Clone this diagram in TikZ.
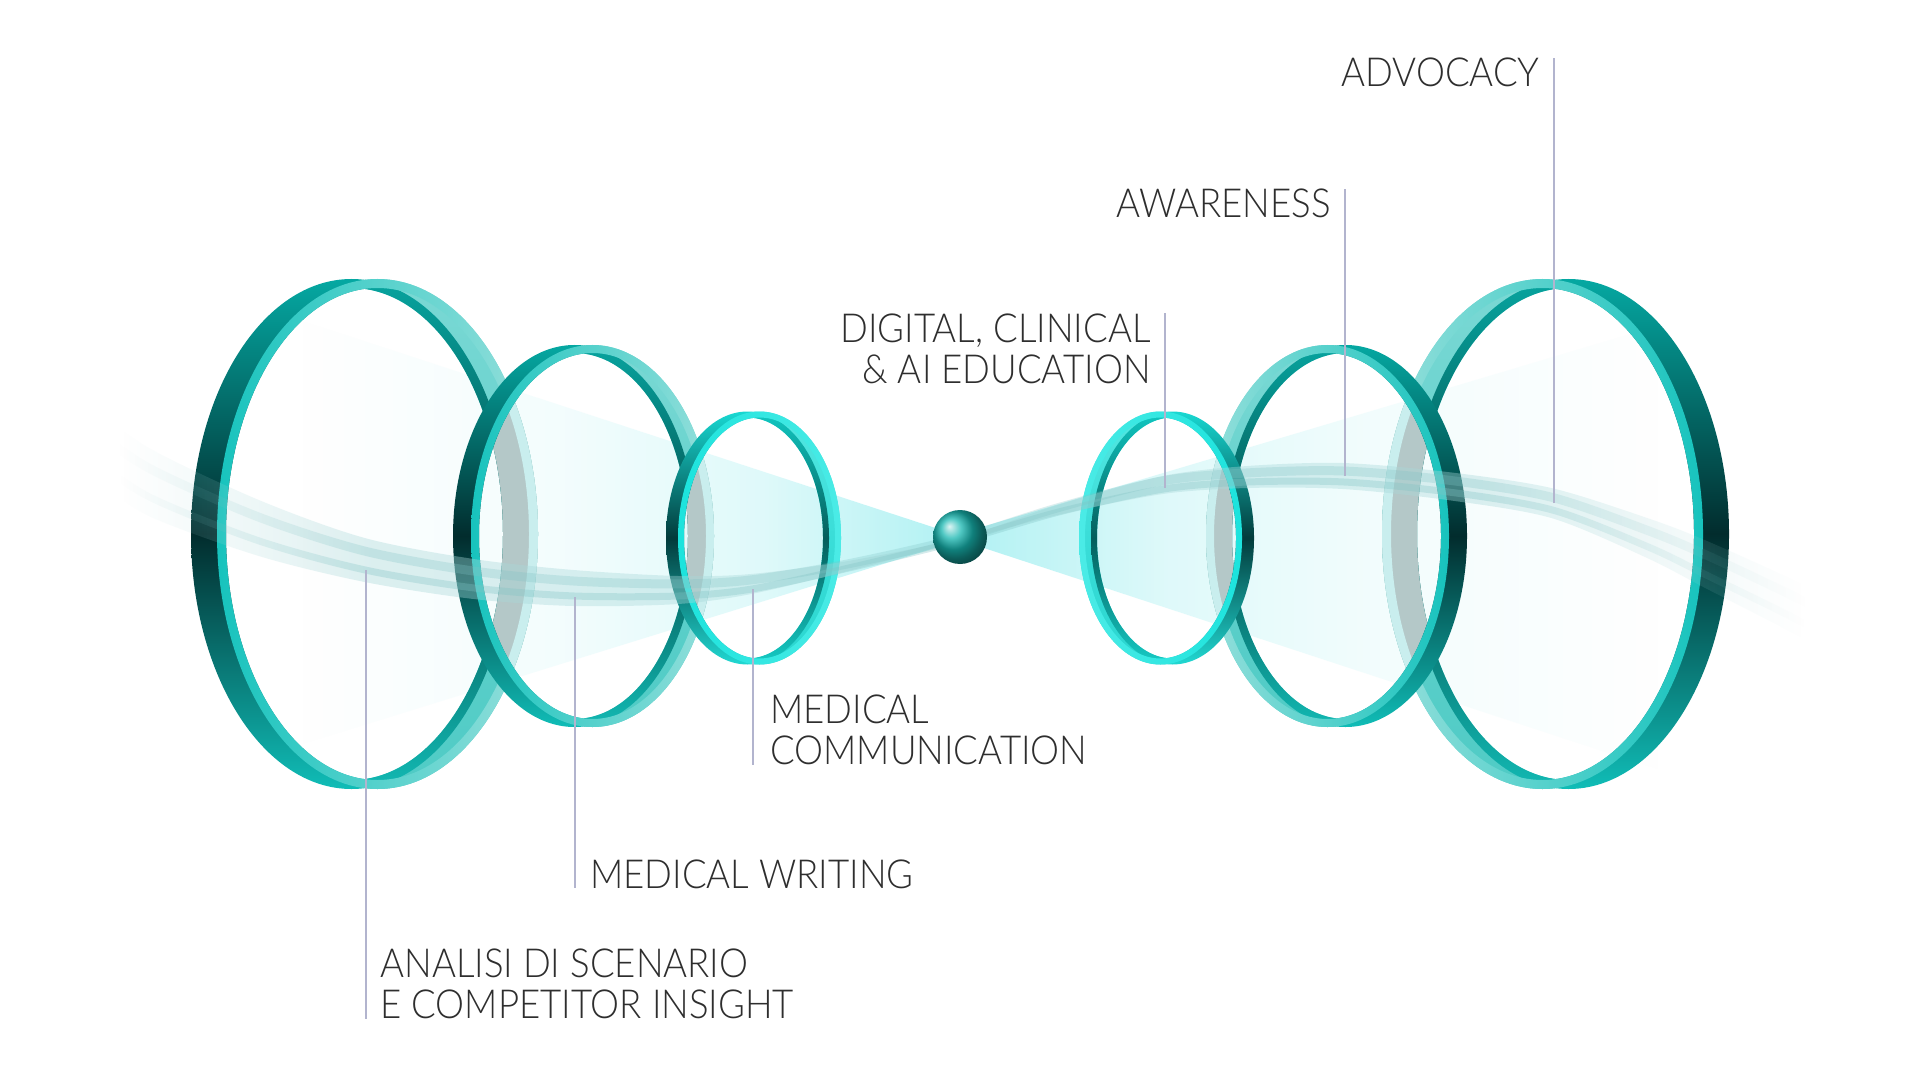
\documentclass[tikz,border=0pt]{standalone}
\usepackage{fontspec}
\setmainfont{Lato}[UprightFont={* Light}, FakeStretch=0.915]
\usetikzlibrary{positioning, fadings, calc}

\definecolor{inktext}{HTML}{2E2E2E}
\definecolor{leadergray}{HTML}{B2B4CE}
\definecolor{beamcyan}{HTML}{9CEEF0}
\definecolor{ribbonteal}{HTML}{A8D8D9}
\definecolor{strandteal}{HTML}{80C3C4}
\definecolor{hubteal}{HTML}{17B7B1}
% big rings
\definecolor{bdT}{HTML}{05A8A2}\definecolor{bdM}{HTML}{022C2D}\definecolor{bdB}{HTML}{10BDB7}
\definecolor{blT}{HTML}{7AD8D4}\definecolor{blM}{HTML}{62D1CC}\definecolor{blB}{HTML}{4FCBC5}
\definecolor{bbT}{HTML}{07A49F}\definecolor{bbM}{HTML}{044F4D}\definecolor{bbB}{HTML}{12B9B3}
\definecolor{bfIn}{HTML}{17C3BD}\definecolor{bfOut}{HTML}{95DFDB}
% small rings
\definecolor{sdT}{HTML}{18D8D2}\definecolor{sdM}{HTML}{023B3B}\definecolor{sdB}{HTML}{21D8D2}
\definecolor{slT}{HTML}{52E6E1}\definecolor{slM}{HTML}{3ADDD8}\definecolor{slB}{HTML}{2AD6D0}
\definecolor{sbT}{HTML}{11C8C2}\definecolor{sbM}{HTML}{045E5C}\definecolor{sbB}{HTML}{16CBC5}
\definecolor{sfIn}{HTML}{1CE3DD}\definecolor{sfOut}{HTML}{4BEBE6}
% seen through a lens
\definecolor{ghostface}{HTML}{B4C8C8}
\definecolor{ghostedge}{HTML}{C9EEEE}

\tikzset{
  big dark/.style={top color=bdT, bottom color=bdB, middle color=bdM},
  big light/.style={top color=blT, bottom color=blB, middle color=blM},
  big back/.style={top color=bbT, bottom color=bbB, middle color=bbM},
  big front 1/.style={left color=bfIn, right color=bfOut},
  big front -1/.style={left color=bfOut, right color=bfIn},
  small dark/.style={top color=sdT, bottom color=sdB, middle color=sdM},
  small light/.style={top color=slT, bottom color=slB, middle color=slM},
  small back/.style={top color=sbT, bottom color=sbB, middle color=sbM},
  small front 1/.style={left color=sfIn, right color=sfOut},
  small front -1/.style={left color=sfOut, right color=sfIn},
}

\pgfdeclarehorizontalshading{ribbonmask}{100bp}{color(0bp)=(black); color(26bp)=(black); color(33bp)=(white); color(64bp)=(white); color(73bp)=(black); color(100bp)=(black)}
\pgfdeclarehorizontalshading{beammaskL}{100bp}{color(0bp)=(black); color(25bp)=(black); color(45bp)=(black!85!white); color(60bp)=(black!60!white); color(75bp)=(white); color(100bp)=(white)}
\pgfdeclarehorizontalshading{beammaskR}{100bp}{color(0bp)=(white); color(25bp)=(white); color(40bp)=(black!60!white); color(55bp)=(black!85!white); color(75bp)=(black); color(100bp)=(black)}
\tikzfading[name=ribbonfade, shading=ribbonmask]
\tikzfading[name=beamleft, shading=beammaskL]
\tikzfading[name=beamright, shading=beammaskR]

% #1 cx, #2 cy, #3 rx, #4 ry, #5 depth, #6 rim, #7 palette, #8 side
\newcommand{\ringband}[8]{%
  \pgfmathsetmacro{\ringax}{#1-(#8)*#5}%
  \pgfmathsetmacro{\ringbx}{#1+(#8)*#5}%
  \pgfmathsetmacro{\ringro}{#3+#6/2}%
  \pgfmathsetmacro{\ringri}{#3-#6/2}%
  \pgfmathsetmacro{\ringso}{#4+#6/2}%
  \pgfmathsetmacro{\ringsi}{#4-#6/2}%
  \pgfmathsetmacro{\ringfar}{#1-(#8)*400}%
  \pgfmathsetmacro{\ringnear}{#1+(#8)*400}%
  \begin{scope}
    \clip (#1,{#2-400}) rectangle (\ringfar,{#2+400});
    \shade[even odd rule, #7 dark] (\ringax,#2) ellipse[x radius=\ringro, y radius=\ringso]
      (\ringbx,#2) ellipse[x radius=\ringri, y radius=\ringsi];
  \end{scope}
  \begin{scope}
    \clip (#1,{#2-400}) rectangle (\ringnear,{#2+400});
    \shade[even odd rule, #7 light] (\ringbx,#2) ellipse[x radius=\ringro, y radius=\ringso]
      (\ringax,#2) ellipse[x radius=\ringri, y radius=\ringsi];
    \shade[even odd rule, #7 back] (\ringax,#2) ellipse[x radius=\ringro, y radius=\ringso]
      (\ringax,#2) ellipse[x radius=\ringri, y radius=\ringsi];
  \end{scope}
  \shade[even odd rule, #7 front #8] (\ringbx,#2) ellipse[x radius=\ringro, y radius=\ringso]
    (\ringbx,#2) ellipse[x radius=\ringri, y radius=\ringsi];
}

% the near half of a ring, seen through the next lens
\newcommand{\ringghost}[7]{%
  \pgfmathsetmacro{\ringax}{#1-(#7)*#5}%
  \pgfmathsetmacro{\ringbx}{#1+(#7)*#5}%
  \pgfmathsetmacro{\ringro}{#3+#6/2}%
  \pgfmathsetmacro{\ringri}{#3-#6/2}%
  \pgfmathsetmacro{\ringso}{#4+#6/2}%
  \pgfmathsetmacro{\ringsi}{#4-#6/2}%
  \pgfmathsetmacro{\ringnear}{#1+(#7)*400}%
  \begin{scope}
    \clip (#1,{#2-400}) rectangle (\ringnear,{#2+400});
    \fill[ghostface, even odd rule] (\ringbx,#2) ellipse[x radius=\ringro, y radius=\ringso]
      (\ringax,#2) ellipse[x radius=\ringri, y radius=\ringsi];
    \fill[ghostedge, even odd rule] (\ringbx,#2) ellipse[x radius=\ringro, y radius=\ringso]
      (\ringbx,#2) ellipse[x radius=\ringri, y radius=\ringsi];
  \end{scope}
}

% clip to the glass of a ring
\newcommand{\lensclip}[7]{%
  \pgfmathsetmacro{\ringbx}{#1+(#7)*#5}%
  \pgfmathsetmacro{\ringri}{#3-#6/2}%
  \pgfmathsetmacro{\ringsi}{#4-#6/2}%
  \clip (\ringbx,#2) ellipse[x radius=\ringri, y radius=\ringsi];
}

\begin{document}
\begin{tikzpicture}[x=0.5pt, y=-0.5pt]
  \tikzstyle{lbl}=[font=\fontsize{20}{20.5}\selectfont, text=inktext, inner sep=0pt]
  \tikzstyle{leader}=[draw=leadergray, line width=0.75pt]
  \tikzstyle{beam}=[fill=beamcyan, fill opacity=0.8]
  \useasboundingbox (0,0) rectangle (1920,1080);
  \fill[white] (0,0) rectangle (1920,1080);

  \coordinate (hub) at (960,537);

  % light cones
  \fill[beam, path fading=beamleft] (hub) -- (945,531) -- (300,320) -- (300,745) -- (945,545) -- cycle;
  \fill[beam, path fading=beamright] (hub) -- (975,529) -- (1660,325) -- (1660,770) -- (975,545) -- cycle;

  % left rings
  \ringband{364.5}{534}{156}{250.5}{13}{9}{big}{1}
  \begin{scope}
    \lensclip{583.5}{536}{117.5}{187}{9}{8}{1}
    \ringghost{364.5}{534}{156}{250.5}{13}{9}{1}
  \end{scope}
  \ringband{583.5}{536}{117.5}{187}{9}{8}{big}{1}
  \begin{scope}
    \lensclip{753.5}{538}{78.5}{123.5}{6}{6}{1}
    \ringghost{583.5}{536}{117.5}{187}{9}{8}{1}
  \end{scope}
  \ringband{753.5}{538}{78.5}{123.5}{6}{6}{small}{1}

  % right rings
  \ringband{1555.5}{534}{156}{250.5}{13}{9}{big}{-1}
  \begin{scope}
    \lensclip{1336.5}{536}{117.5}{187}{9}{8}{-1}
    \ringghost{1555.5}{534}{156}{250.5}{13}{9}{-1}
  \end{scope}
  \ringband{1336.5}{536}{117.5}{187}{9}{8}{big}{-1}
  \begin{scope}
    \lensclip{1166.5}{538}{78.5}{123.5}{6}{6}{-1}
    \ringghost{1336.5}{536}{117.5}{187}{9}{8}{-1}
  \end{scope}
  \ringband{1166.5}{538}{78.5}{123.5}{6}{6}{small}{-1}

  % ribbon
  \fill[ribbonteal, fill opacity=0.38, path fading=ribbonfade]
    plot[smooth] coordinates {(90,404) (150,448) (260,500) (366,538) (475,559) (575,570) (680,576) (753,574) (850,561) (960,538.5) (1060,505) (1165,476) (1250,466) (1345,463) (1450,472) (1554,488) (1650,518) (1710,541) (1807,585) (1870,618)}
    -- plot[smooth] coordinates {(1870,678) (1807,639) (1710,589) (1650,558) (1554,518) (1450,500) (1345,489) (1250,488) (1165,494) (1060,515) (960,541.5) (850,571) (753,594) (680,604) (575,606) (475,599) (366,582) (260,556) (150,516) (90,476)}
    -- cycle;
  \draw[strandteal, line width=4.5pt, draw opacity=0.28, path fading=ribbonfade]
    plot[smooth] coordinates {(90,426) (150,468) (260,517) (366,551) (475,571) (575,581) (680,584) (753,580) (850,564) (960,539) (1060,508) (1165,481) (1250,473) (1345,471) (1450,480) (1554,497) (1650,530) (1710,555) (1807,601) (1870,636)};
  \draw[strandteal, line width=3.5pt, draw opacity=0.32, path fading=ribbonfade]
    plot[smooth] coordinates {(90,456) (150,497) (260,541) (366,570) (475,588) (575,596) (680,596) (753,589) (850,568) (960,541) (1060,512) (1165,489) (1250,482) (1345,482) (1450,492) (1554,510) (1650,547) (1710,576) (1807,624) (1870,662)};

  % the hub
  \node[circle, shade, ball color=hubteal, minimum size=27pt, inner sep=0pt] (hubball) at (hub) {};

  % anchor points on the ribbon
  \coordinate (wAnalisi) at (366,570);
  \coordinate (wWriting) at (575,597);
  \coordinate (wComm) at (753,589);
  \coordinate (wDigital) at (1165,488);
  \coordinate (wAware) at (1345,476);
  \coordinate (wAdvocacy) at (1554,503);

  % labels
  \node[lbl, anchor=base east] (advocacy) at (1540,87) {ADVOCACY};
  \node[lbl, anchor=base east] (awareness) at (1331,218) {AWARENESS};
  \node[lbl, anchor=north east, align=right] (digital) at (1151,313) {DIGITAL, CLINICAL\\\& AI EDUCATION};
  \node[lbl, anchor=north west, align=left] (medcomm) at (770,694) {MEDICAL\\COMMUNICATION};
  \node[lbl, anchor=base west] (medwriting) at (590,888) {MEDICAL WRITING};
  \node[lbl, anchor=north west, align=left] (analisi) at (380,948) {ANALISI DI SCENARIO\\E COMPETITOR INSIGHT};

  \draw[leader] (wAnalisi) -- (wAnalisi |- analisi.south);
  \draw[leader] (wWriting) -- (wWriting |- medwriting.base);
  \draw[leader] (wComm) -- (wComm |- medcomm.south);
  \draw[leader] (wDigital) -- (wDigital |- digital.north);
  \draw[leader] (wAware) -- (wAware |- awareness.north);
  \draw[leader] (wAdvocacy) -- (wAdvocacy |- advocacy.north);
\end{tikzpicture}
\end{document}
